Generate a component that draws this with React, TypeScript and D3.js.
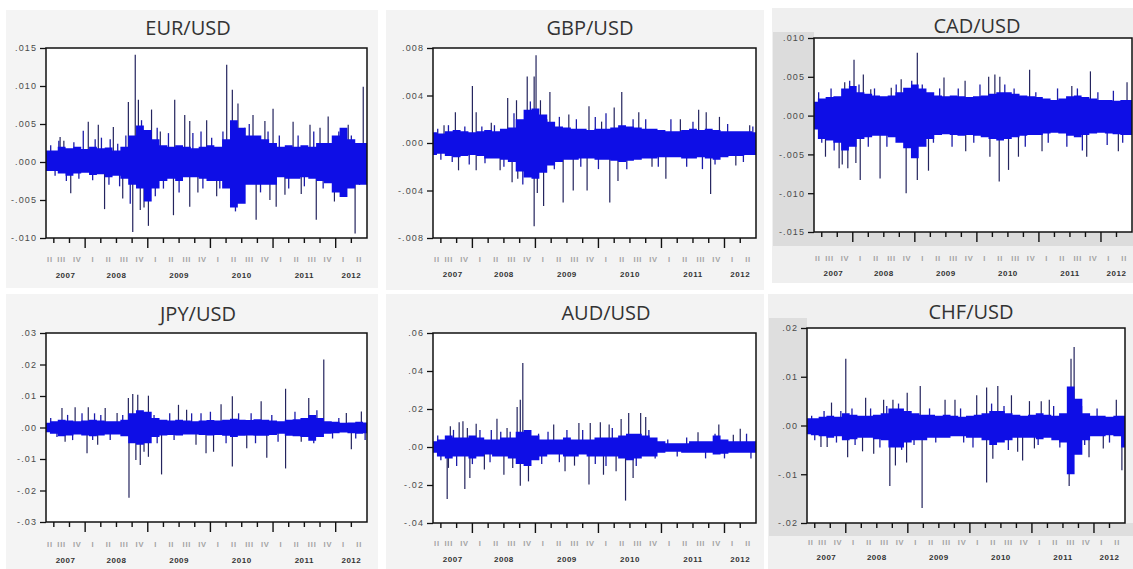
import React, { useRef, useEffect } from "react";
import * as d3 from "d3";

type Spike = [number, number];

interface Box {
  left: number;
  right: number;
  top: number;
  bottom: number;
  titleX: number;
  titleY: number;
  qBase: number;
  yrBase: number;
  bg: [number, number, number, number, string][];
}

interface PanelSpec {
  name: string;
  hi: number[];
  lo: number[];
  spikes: Spike[];
  fringe: Spike[];
  ticks: number[];
  tickLabels: string[];
}

// sample range (decimal years) and the half-quarter grid the core band was read on
const xDomain: [number, number] = [2007.375, 2012.5];
const bandTimes = d3.range(42).map((i) => 2007.375 + i * 0.125);

const quarterNames = ["I", "II", "III", "IV"];
const years = [2007, 2008, 2009, 2010, 2011, 2012];

// ---------- EUR/USD ----------
const eurHi = [.0015, .0015, .0020, .0018, .0020, .0017, .0020, .0018, .0019, .0015, .0020, .0035, .0048, .0042, .0030, .0022, .0020, .0022, .0020, .0018, .0020, .0022, .0020, .0030, .0055, .0045, .0035, .0035, .0030, .0025, .0020, .0022, .0020, .0022, .0020, .0025, .0025, .0035, .0045, .0030, .0025, .0025];
const eurLo = [-.0012, -.0012, -.0015, -.0018, -.0015, -.0014, -.0017, -.0016, -.0020, -.0018, -.0022, -.0030, -.0035, -.0052, -.0035, -.0025, -.0022, -.0025, -.0020, -.0020, -.0022, -.0025, -.0025, -.0035, -.0060, -.0055, -.0030, -.0030, -.0030, -.0030, -.0020, -.0022, -.0022, -.0020, -.0022, -.0025, -.0028, -.0040, -.0046, -.0035, -.0030, -.0030];
const eurSpikes: Spike[] = [
  [2007.60, .0033], [2007.66, .0028], [2007.77, -.0041], [2008.05, .0053], [2008.21, .0049], [2008.31, -.0062],
  [2008.45, .0046], [2008.60, -.0048], [2008.69, .0079], [2008.76, -.0092], [2008.80, .0141], [2008.85, .0082],
  [2008.88, -.0063], [2008.94, -.0060], [2009.01, -.0084], [2009.06, .0069], [2009.20, .0040], [2009.41, -.0070],
  [2009.43, .0082], [2009.59, .0062], [2009.67, .0054], [2009.67, -.0059], [2009.80, -.0040], [2009.94, .0055],
  [2010.10, -.0045], [2010.26, .0128], [2010.35, .0095], [2010.44, .0077], [2010.55, .0045], [2010.68, .0062],
  [2010.73, -.0076], [2010.87, .0054], [2010.95, -.0050], [2011.00, .0070], [2011.05, -.0059], [2011.19, -.0043],
  [2011.32, .0053], [2011.45, -.0042], [2011.59, .0049], [2011.69, -.0076], [2011.75, .0045], [2011.88, .0060],
  [2011.98, -.0052], [2012.20, .0049], [2012.31, -.0094], [2012.44, .0099],
];
const eurFringe: Spike[] = [
  [2007.45, .0022], [2007.52, -.0018], [2007.58, .0028], [2007.70, -.0025], [2007.82, .0026], [2007.90, -.0022],
  [2007.97, .0041], [2008.12, -.0024], [2008.16, .0030], [2008.26, .0032], [2008.38, -.0030], [2008.40, .0030],
  [2008.52, .0024], [2008.55, -.0032], [2008.65, .0035], [2008.72, -.0055], [2008.90, .0055], [2009.12, -.0045],
  [2009.15, .0045], [2009.25, -.0035], [2009.33, .0038], [2009.50, -.0040], [2009.72, .0038], [2009.85, .0040],
  [2009.88, -.0035], [2010.02, .0032], [2010.15, -.0035], [2010.20, .0040], [2010.40, -.0065], [2010.52, -.0050],
  [2010.62, .0050], [2010.80, -.0040], [2010.92, .0040], [2011.10, .0035], [2011.25, -.0035], [2011.40, .0035],
  [2011.50, -.0032], [2011.65, .0040], [2011.80, -.0035], [2012.05, .0040], [2012.10, -.0042], [2012.25, .0035],
  [2012.38, -.0030],
];
const eurTicks = [-.010, -.005, 0, .005, .010, .015];
const eurTickLabels = ["-.010", "-.005", ".000", ".005", ".010", ".015"];

// ---------- GBP/USD ----------
const gbpHi = [.0009, .0008, .0010, .0011, .0010, .0009, .0010, .0011, .0010, .0012, .0013, .0020, .0028, .0029, .0024, .0018, .0014, .0013, .0012, .0012, .0011, .0012, .0012, .0013, .0015, .0014, .0013, .0012, .0012, .0011, .0010, .0010, .0011, .0012, .0011, .0012, .0011, .0010, .0010, .0010, .0010, .0009];
const gbpLo = [-.0010, -.0009, -.0011, -.0012, -.0011, -.0010, -.0011, -.0013, -.0013, -.0014, -.0016, -.0024, -.0029, -.0030, -.0025, -.0019, -.0016, -.0014, -.0014, -.0013, -.0013, -.0014, -.0014, -.0015, -.0016, -.0015, -.0014, -.0013, -.0013, -.0012, -.0012, -.0012, -.0013, -.0013, -.0012, -.0013, -.0014, -.0012, -.0011, -.0011, -.0010, -.0010];
const gbpSpikes: Spike[] = [
  [2007.55, .0015], [2007.73, .0026], [2007.78, -.0023], [2008.00, .0048], [2008.06, .0026], [2008.06, -.0023],
  [2008.30, .0017], [2008.44, -.0023], [2008.56, .0038], [2008.63, -.0033], [2008.70, .0036], [2008.72, -.0030],
  [2008.87, .0056], [2008.98, .0056], [2008.98, -.0070], [2009.01, .0074], [2009.03, -.0042], [2009.08, .0036],
  [2009.13, -.0053], [2009.23, .0043], [2009.44, -.0050], [2009.53, .0024], [2009.60, -.0040], [2009.82, -.0040],
  [2009.85, .0031], [2010.05, .0018], [2010.18, -.0050], [2010.25, .0030], [2010.31, -.0032], [2010.37, .0043],
  [2010.64, .0026], [2010.85, -.0020], [2011.07, -.0030], [2011.30, .0020], [2011.59, .0028], [2011.71, .0026],
  [2011.78, -.0043], [2011.92, .0022], [2012.18, -.0019], [2012.40, .0015],
];
const gbpFringe: Spike[] = [
  [2007.45, .0012], [2007.50, -.0014], [2007.62, .0015], [2007.68, -.0016], [2007.88, .0014], [2007.95, -.0018],
  [2008.15, .0014], [2008.20, -.0017], [2008.35, .0015], [2008.50, -.0020], [2008.66, .0025], [2008.80, -.0035],
  [2008.92, .0035], [2009.18, .0020], [2009.30, -.0022], [2009.38, .0022], [2009.65, .0020], [2009.72, -.0020],
  [2009.95, .0022], [2010.00, -.0022], [2010.12, .0025], [2010.45, -.0022], [2010.55, .0020], [2010.75, .0020],
  [2010.95, -.0020], [2011.15, .0020], [2011.40, -.0020], [2011.50, .0018], [2011.65, -.0022], [2011.85, -.0018],
  [2012.05, .0016], [2012.30, -.0016], [2012.45, .0014],
];
const gbpTicks = [-.008, -.004, 0, .004, .008];
const gbpTickLabels = ["-.008", "-.004", ".000", ".004", ".008"];

// ---------- CAD/USD ----------
const cadHi = [.0018, .0022, .0024, .0025, .0035, .0038, .0030, .0028, .0026, .0025, .0026, .0030, .0036, .0040, .0035, .0030, .0026, .0025, .0026, .0025, .0024, .0025, .0026, .0028, .0030, .0030, .0028, .0026, .0025, .0024, .0022, .0020, .0022, .0025, .0026, .0024, .0022, .0020, .0020, .0019, .0020, .0020];
const cadLo = [-.0018, -.0030, -.0032, -.0035, -.0045, -.0040, -.0030, -.0028, -.0026, -.0026, -.0028, -.0035, -.0042, -.0055, -.0040, -.0030, -.0025, -.0024, -.0025, -.0026, -.0025, -.0026, -.0028, -.0030, -.0032, -.0030, -.0028, -.0026, -.0025, -.0025, -.0023, -.0022, -.0023, -.0026, -.0028, -.0025, -.0023, -.0022, -.0023, -.0024, -.0025, -.0025];
const cadSpikes: Spike[] = [
  [2007.56, -.0053], [2007.78, -.0068], [2007.83, -.0063], [2007.87, .0043], [2007.92, -.0068], [2008.02, .0072],
  [2008.05, -.0061], [2008.12, -.0083], [2008.17, .0053], [2008.29, .0034], [2008.44, -.0081], [2008.62, .0036],
  [2008.78, .0047], [2008.86, -.0100], [2009.04, .0081], [2009.04, -.0083], [2009.22, -.0071], [2009.47, .0049],
  [2009.81, .0045], [2009.82, -.0046], [2010.19, .0050], [2010.21, -.0053], [2010.29, .0053], [2010.36, -.0085],
  [2010.37, .0050], [2010.51, -.0070], [2010.67, -.0053], [2010.85, .0059], [2011.05, -.0046], [2011.53, .0038],
  [2011.77, -.0053], [2011.83, .0057], [2012.28, -.0046], [2012.42, .0043],
];
const cadFringe: Spike[] = [
  [2007.45, .0030], [2007.50, -.0035], [2007.65, .0035], [2007.70, -.0045], [2007.95, .0045], [2008.10, .0040],
  [2008.25, -.0040], [2008.35, .0035], [2008.55, -.0040], [2008.70, .0040], [2008.95, .0045], [2009.12, .0040],
  [2009.30, -.0035], [2009.40, .0035], [2009.60, -.0040], [2009.70, .0035], [2009.95, -.0035], [2010.05, .0040],
  [2010.45, .0040], [2010.60, .0035], [2010.78, -.0040], [2010.95, .0030], [2011.15, -.0035], [2011.30, .0035],
  [2011.45, -.0040], [2011.62, .0035], [2011.70, -.0045], [2011.95, .0030], [2012.10, -.0038], [2012.20, .0032],
  [2012.35, -.0035],
];
const cadTicks = [-.015, -.010, -.005, 0, .005, .010];
const cadTickLabels = ["-.015", "-.010", "-.005", ".000", ".005", ".010"];

// ---------- JPY/USD ----------
const jpyHi = [.0015, .0020, .0025, .0022, .0020, .0022, .0025, .0022, .0020, .0020, .0025, .0045, .0055, .0050, .0030, .0025, .0022, .0025, .0022, .0020, .0022, .0024, .0022, .0025, .0028, .0025, .0024, .0026, .0025, .0022, .0020, .0025, .0026, .0030, .0040, .0030, .0020, .0018, .0015, .0016, .0018, .0016];
const jpyLo = [-.0015, -.0020, -.0028, -.0025, -.0022, -.0025, -.0028, -.0025, -.0022, -.0022, -.0028, -.0050, -.0055, -.0050, -.0030, -.0025, -.0024, -.0025, -.0022, -.0022, -.0024, -.0025, -.0024, -.0026, -.0030, -.0026, -.0025, -.0026, -.0026, -.0024, -.0020, -.0026, -.0028, -.0030, -.0042, -.0030, -.0020, -.0018, -.0016, -.0018, -.0020, -.0018];
const jpySpikes: Spike[] = [
  [2007.63, .0062], [2007.68, -.0045], [2007.84, .0064], [2008.03, -.0082], [2008.05, .0064], [2008.20, -.0055],
  [2008.32, .0062], [2008.51, .0046], [2008.69, .0094], [2008.70, -.0223], [2008.76, .0106], [2008.81, -.0103],
  [2008.84, .0104], [2008.88, -.0119], [2008.94, -.0077], [2009.01, .0101], [2009.01, -.0093], [2009.22, -.0149],
  [2009.49, .0072], [2009.62, .0056], [2009.77, -.0055], [2009.93, -.0082], [2010.05, -.0077], [2010.17, .0074],
  [2010.35, .0099], [2010.35, -.0124], [2010.58, -.0066], [2010.81, .0083], [2010.90, -.0096], [2011.20, .0123],
  [2011.20, -.0130], [2011.45, -.0045], [2011.57, .0094], [2011.81, .0216], [2012.17, .0046], [2012.25, -.0069],
  [2012.41, .0051],
];
const jpyFringe: Spike[] = [
  [2007.45, .0030], [2007.55, -.0030], [2007.72, .0040], [2007.80, -.0040], [2007.95, .0045], [2008.12, -.0040],
  [2008.15, .0045], [2008.25, .0040], [2008.40, -.0040], [2008.60, .0040], [2009.10, .0040], [2009.15, -.0050],
  [2009.35, .0045], [2009.42, -.0040], [2009.70, .0045], [2009.85, .0045], [2010.00, .0050], [2010.25, -.0050],
  [2010.45, .0045], [2010.65, .0045], [2010.72, -.0050], [2010.98, .0040], [2011.08, -.0045], [2011.35, .0050],
  [2011.65, -.0050], [2011.70, .0055], [2011.95, -.0035], [2012.05, .0030], [2012.32, -.0035], [2012.47, -.0040],
];
const jpyTicks = [-.03, -.02, -.01, 0, .01, .02, .03];
const jpyTickLabels = ["-.03", "-.02", "-.01", ".00", ".01", ".02", ".03"];

// ---------- AUD/USD ----------
const audHi = [.003, .004, .006, .005, .005, .006, .005, .004, .004, .005, .005, .008, .009, .006, .004, .004, .004, .005, .004, .004, .004, .005, .005, .005, .006, .007, .007, .006, .005, .003, .002, .002, .002, .003, .003, .003, .006, .004, .003, .003, .003, .003];
const audLo = [-.003, -.005, -.006, -.005, -.005, -.006, -.005, -.004, -.005, -.005, -.006, -.009, -.010, -.007, -.005, -.004, -.004, -.005, -.005, -.004, -.005, -.005, -.005, -.005, -.006, -.007, -.006, -.005, -.005, -.003, -.0025, -.0025, -.003, -.003, -.003, -.003, -.004, -.0035, -.003, -.003, -.003, -.003];
const audSpikes: Spike[] = [
  [2007.60, -.0274], [2007.62, -.0110], [2007.65, .0109], [2007.79, .0130], [2007.85, .0135], [2007.88, -.0221],
  [2007.92, .0100], [2007.96, -.0163], [2008.06, .0123], [2008.19, -.0119], [2008.39, .0149], [2008.50, -.0146],
  [2008.55, .0100], [2008.64, -.0110], [2008.71, .0211], [2008.76, .0249], [2008.76, -.0204], [2008.80, .0442],
  [2008.89, -.0181], [2009.29, .0118], [2009.47, -.0128], [2009.62, -.0098], [2009.69, .0126], [2009.85, -.0198],
  [2009.87, .0126], [2010.03, .0130], [2010.08, -.0146], [2010.17, .0118], [2010.28, -.0128], [2010.36, .0147],
  [2010.43, -.0282], [2010.48, .0179], [2010.55, -.0163], [2010.67, .0179], [2010.75, .0158], [2011.58, .0077],
  [2011.91, .0118], [2012.14, .0065], [2012.25, .0096],
];
const audFringe: Spike[] = [
  [2007.45, .006], [2007.50, -.007], [2007.70, .009], [2007.75, -.010], [2008.00, -.009], [2008.12, .009],
  [2008.28, -.008], [2008.30, .009], [2008.45, .008], [2008.60, .008], [2009.05, .007], [2009.10, -.009],
  [2009.20, .008], [2009.38, -.008], [2009.50, .009], [2009.75, .009], [2009.95, -.009], [2010.12, -.010],
  [2010.22, .010], [2010.60, -.010], [2010.80, .009], [2010.90, -.006], [2011.10, .004], [2011.25, -.005],
  [2011.40, .005], [2011.70, -.006], [2011.85, .007], [2012.00, -.006], [2012.35, .007], [2012.42, -.006],
];
const audTicks = [-.04, -.02, 0, .02, .04, .06];
const audTickLabels = ["-.04", "-.02", ".00", ".02", ".04", ".06"];

// ---------- CHF/USD ----------
const chfHi = [.0015, .0015, .0018, .0020, .0018, .0025, .0022, .0020, .0020, .0022, .0025, .0035, .0035, .0030, .0025, .0022, .0022, .0020, .0022, .0020, .0018, .0020, .0022, .0025, .0030, .0030, .0025, .0022, .0020, .0022, .0025, .0022, .0020, .0025, .0080, .0055, .0025, .0020, .0020, .0018, .0020, .0020];
const chfLo = [-.0018, -.0020, -.0022, -.0025, -.0022, -.0030, -.0028, -.0025, -.0025, -.0028, -.0030, -.0045, -.0045, -.0035, -.0030, -.0030, -.0025, -.0025, -.0025, -.0022, -.0022, -.0025, -.0025, -.0030, -.0040, -.0035, -.0030, -.0025, -.0025, -.0025, -.0028, -.0025, -.0030, -.0035, -.0100, -.0060, -.0030, -.0022, -.0022, -.0020, -.0022, -.0045];
const chfSpikes: Spike[] = [
  [2007.60, -.0044], [2007.70, -.0044], [2007.77, .0047], [2008.00, .0137], [2008.03, -.0065], [2008.27, -.0053],
  [2008.32, .0057], [2008.45, -.0058], [2008.61, .0053], [2008.71, -.0124], [2008.76, .0053], [2008.80, -.0082],
  [2008.98, -.0076], [2008.99, .0067], [2009.20, .0081], [2009.23, -.0169], [2009.60, .0053], [2009.76, .0053],
  [2010.11, .0062], [2010.27, .0078], [2010.27, -.0117], [2010.37, -.0068], [2010.45, .0081], [2010.67, .0062],
  [2010.77, -.0054], [2010.85, -.0072], [2010.96, .0050], [2011.04, -.0047], [2011.15, .0050], [2011.28, .0053],
  [2011.60, -.0124], [2011.63, .0137], [2011.68, .0161], [2011.92, -.0065], [2012.15, -.0047], [2012.36, .0053],
  [2012.45, -.0092],
];
const chfFringe: Spike[] = [
  [2007.45, .0020], [2007.50, -.0030], [2007.65, .0030], [2007.85, -.0035], [2007.92, .0030], [2008.10, .0035],
  [2008.15, -.0040], [2008.40, .0035], [2008.55, -.0045], [2008.66, .0040], [2008.85, .0045], [2008.90, -.0050],
  [2009.10, -.0040], [2009.35, .0035], [2009.45, -.0035], [2009.85, .0035], [2009.90, -.0035], [2010.05, -.0045],
  [2010.35, .0045], [2010.55, .0040], [2010.62, -.0050], [2011.10, -.0040], [2011.35, .0040], [2011.45, -.0045],
  [2011.80, .0040], [2011.85, -.0040], [2012.05, .0035], [2012.25, -.0035],
];
const chfTicks = [-.02, -.01, 0, .01, .02];
const chfTickLabels = ["-.02", "-.01", ".00", ".01", ".02"];

const panels: PanelSpec[] = [
  { name: "EUR/USD", hi: eurHi, lo: eurLo, spikes: eurSpikes, fringe: eurFringe, ticks: eurTicks, tickLabels: eurTickLabels },
  { name: "GBP/USD", hi: gbpHi, lo: gbpLo, spikes: gbpSpikes, fringe: gbpFringe, ticks: gbpTicks, tickLabels: gbpTickLabels },
  { name: "CAD/USD", hi: cadHi, lo: cadLo, spikes: cadSpikes, fringe: cadFringe, ticks: cadTicks, tickLabels: cadTickLabels },
  { name: "JPY/USD", hi: jpyHi, lo: jpyLo, spikes: jpySpikes, fringe: jpyFringe, ticks: jpyTicks, tickLabels: jpyTickLabels },
  { name: "AUD/USD", hi: audHi, lo: audLo, spikes: audSpikes, fringe: audFringe, ticks: audTicks, tickLabels: audTickLabels },
  { name: "CHF/USD", hi: chfHi, lo: chfLo, spikes: chfSpikes, fringe: chfFringe, ticks: chfTicks, tickLabels: chfTickLabels },
];

// each screenshot sits at a slightly different place/scale, so boxes are per panel
const boxes: Box[] = [
  { left: 46, right: 367, top: 48, bottom: 238, titleX: 188, titleY: 35, qBase: 262, yrBase: 278,
    bg: [[6, 10, 372, 278, "#f4f4f4"]] },
  { left: 433, right: 756, top: 48, bottom: 238, titleX: 590, titleY: 35, qBase: 262, yrBase: 277,
    bg: [[386, 10, 378, 280, "#f3f3f3"]] },
  { left: 814, right: 1132, top: 38, bottom: 232, titleX: 977, titleY: 33, qBase: 261, yrBase: 276,
    bg: [[772, 8, 361, 275, "#efefef"], [773, 32, 41, 214, "#dcdcdc"], [814, 232, 319, 14, "#dcdcdc"]] },
  { left: 46, right: 367, top: 333, bottom: 522, titleX: 198, titleY: 321, qBase: 547, yrBase: 563,
    bg: [[6, 294, 372, 275, "#f4f4f4"]] },
  { left: 433, right: 756, top: 333, bottom: 523, titleX: 606, titleY: 320, qBase: 546, yrBase: 562,
    bg: [[386, 294, 378, 275, "#f3f3f3"]] },
  { left: 807, right: 1125, top: 328, bottom: 523, titleX: 971, titleY: 319, qBase: 545, yrBase: 560,
    bg: [[768, 294, 365, 275, "#f0f0f0"], [769, 318, 38, 218, "#dedede"], [807, 523, 326, 13, "#dedede"]] },
];

const Panel: React.FC<{ spec: PanelSpec; box: Box }> = ({ spec, box }) => {
  const gRef = useRef<SVGGElement>(null);

  useEffect(() => {
    const g = d3.select(gRef.current);
    g.selectAll("*").remove();

    const { left, right, top, bottom } = box;
    const x = d3.scaleLinear().domain(xDomain).range([left, right]);
    const yDomain: [number, number] = [spec.ticks[0], spec.ticks[spec.ticks.length - 1]];
    const y = d3.scaleLinear().domain(yDomain).range([bottom, top]);

    box.bg.forEach(([bx, by, bw, bh, fill]) => {
      g.append("rect").attr("x", bx).attr("y", by).attr("width", bw).attr("height", bh).attr("fill", fill);
    });

    g.append("rect")
      .attr("x", left).attr("y", top)
      .attr("width", right - left).attr("height", bottom - top)
      .attr("fill", "#fff");

    // big spikes go underneath the dense core
    g.append("g")
      .selectAll("line")
      .data(spec.spikes)
      .join("line")
      .attr("x1", (d) => x(d[0]))
      .attr("x2", (d) => x(d[0]))
      .attr("y1", y(0))
      .attr("y2", (d) => y(d[1]))
      .attr("stroke", "#24245e")
      .attr("stroke-width", 1.2);

    g.append("g")
      .selectAll("line")
      .data(spec.fringe)
      .join("line")
      .attr("x1", (d) => x(d[0]))
      .attr("x2", (d) => x(d[0]))
      .attr("y1", y(0))
      .attr("y2", (d) => y(d[1]))
      .attr("stroke", "#1c1ca8")
      .attr("stroke-width", 1.3);

    const core = d3
      .area<number>()
      .curve(d3.curveStep)
      .x((_, i) => x(bandTimes[i]))
      .y0((_, i) => y(spec.lo[i]))
      .y1((d) => y(d));

    g.append("path").datum(spec.hi).attr("d", core).attr("fill", "#0e0ee6");

    g.append("rect")
      .attr("x", left).attr("y", top)
      .attr("width", right - left).attr("height", bottom - top)
      .attr("fill", "none")
      .attr("stroke", "#111")
      .attr("stroke-width", 1.5);

    // left axis
    const yAxis = g.append("g")
      .attr("transform", `translate(${left},0)`)
      .call(
        d3.axisLeft(y)
          .tickValues(spec.ticks)
          .tickSize(6)
          .tickPadding(3)
          .tickFormat((_, i) => spec.tickLabels[i])
      );
    yAxis.select(".domain").remove();
    yAxis.selectAll(".tick line").attr("stroke", "#111").attr("stroke-width", 1.3);
    yAxis.selectAll(".tick text")
      .attr("fill", "#4a4a4a")
      .style("font-family", "'Liberation Sans', Arial, sans-serif")
      .style("font-size", "9px")
      .style("letter-spacing", "1.1px");

    // quarter ticks, longer ones at year starts
    const qTicks = d3.range(2007.5, 2012.26, 0.25);
    g.append("g")
      .selectAll("line")
      .data(qTicks)
      .join("line")
      .attr("x1", (d) => x(d))
      .attr("x2", (d) => x(d))
      .attr("y1", bottom)
      .attr("y2", (d) => bottom + (Math.abs(d - Math.round(d)) < 1e-6 ? 10 : 5))
      .attr("stroke", "#111")
      .attr("stroke-width", 1.4);

    const quarters = d3.range(2007.25, 2012.26, 0.25).map((q, i) => {
      const a = Math.max(q, xDomain[0]);
      const b = Math.min(q + 0.25, xDomain[1]);
      return { mid: (a + b) / 2, label: quarterNames[(i + 1) % 4] };
    });

    g.append("g")
      .selectAll("text")
      .data(quarters)
      .join("text")
      .attr("x", (d) => x(d.mid))
      .attr("y", box.qBase)
      .attr("text-anchor", "middle")
      .attr("fill", "#a2a2a2")
      .style("font-family", "'Liberation Sans', Arial, sans-serif")
      .style("font-size", "7.5px")
      .style("font-weight", "bold")
      .style("letter-spacing", "0.8px")
      .text((d) => d.label);

    g.append("g")
      .selectAll("text")
      .data(years)
      .join("text")
      .attr("x", (d) => x((Math.max(d, xDomain[0]) + Math.min(d + 1, xDomain[1])) / 2))
      .attr("y", box.yrBase)
      .attr("text-anchor", "middle")
      .attr("fill", "#333")
      .style("font-family", "'Liberation Sans', Arial, sans-serif")
      .style("font-size", "8px")
      .style("font-weight", "bold")
      .style("letter-spacing", "0.5px")
      .text((d) => String(d));

    g.append("text")
      .attr("x", box.titleX)
      .attr("y", box.titleY)
      .attr("text-anchor", "middle")
      .attr("fill", "#333")
      .style("font-family", "'Open Sans', 'Noto Sans', sans-serif")
      .style("font-size", "20px")
      .text(spec.name);
  }, [spec, box]);

  return <g ref={gRef}></g>;
};

export default function App() {
  return (
    <svg
      width={1133}
      height={569}
      style={{ position: "absolute", left: 0, top: 0, background: "#fff" }}
    >
      {panels.map((p, i) => (
        <Panel key={p.name} spec={p} box={boxes[i]} />
      ))}
    </svg>
  );
}
